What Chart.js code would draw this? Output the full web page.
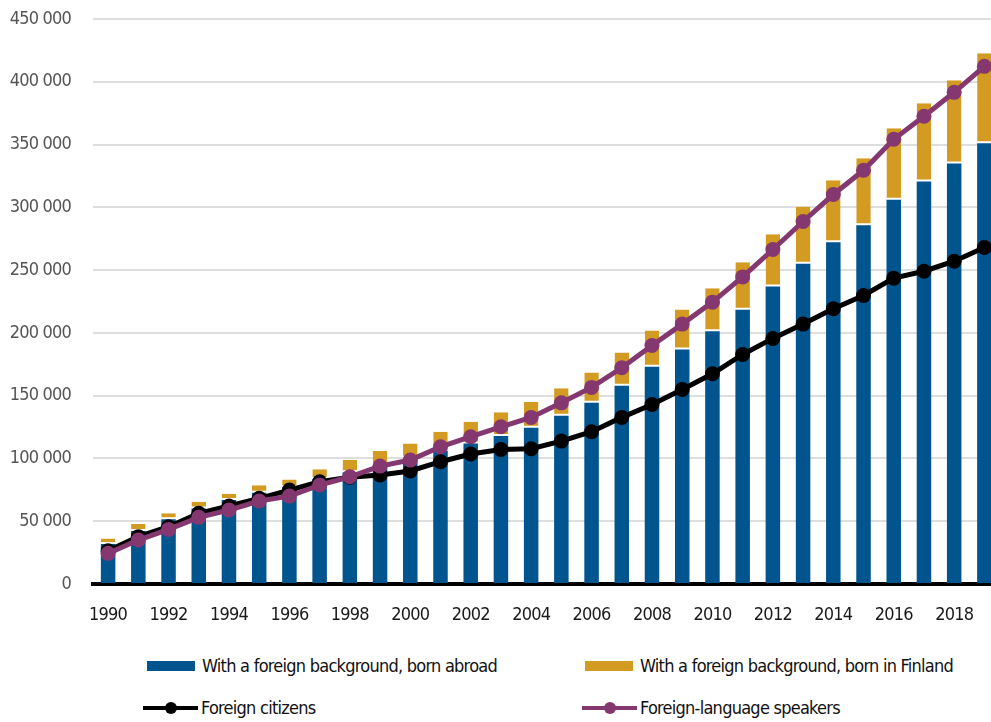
<!DOCTYPE html>
<html lang="en">

<head>
    <meta charset="UTF-8">
    <title>Foreign background population</title>
    <style>
        html, body { margin: 0; padding: 0; background: #fff; overflow: hidden; }
        body { width: 991px; height: 722px; position: relative; font-family: 'Liberation Sans Narrow', 'DejaVu Sans Condensed', sans-serif; }
        #wrap { position: absolute; left: 0; top: 0; width: 1007px; height: 640px; }
        .lg { position: absolute; display: flex; align-items: center; font-size: 18px; letter-spacing: -0.75px; color: #111; white-space: nowrap; }
        .box { width: 48px; height: 10px; margin-right: 7px; }
        .ln { position: relative; width: 55px; height: 4px; margin-right: 3px; }
        .ln i { position: absolute; left: 22px; top: -4px; width: 12px; height: 12px; border-radius: 50%; }
    </style>
</head>

<body>
    <div id="wrap"><canvas id="myChart"></canvas></div>
    <div id="legend"></div>
    <script src="https://cdn.jsdelivr.net/npm/chart.js"></script>

    <script>
        // data
        let v_years = [];
        for (let y = 1990; y <= 2019; y++) v_years.push(String(y));

        let v_bornAbroad = [31800, 42200, 51500, 60200, 66900, 72700, 77000, 83600, 89000, 95000,
            100500, 106100, 112000, 117800, 124400, 134000, 144300, 157900, 173000, 186800,
            201400, 218400, 237000, 255000, 272200, 285800, 306000, 320500, 335000, 351000];
        let v_bornFinland = [4500, 5600, 4800, 5300, 5000, 5900, 6300, 7700, 9700, 10900,
            11500, 15100, 17200, 18900, 20500, 22000, 24200, 26500, 28900, 31900,
            34200, 37900, 41600, 45400, 49400, 53300, 57000, 62400, 66200, 71700];
        let v_citizens = [26500, 37700, 45600, 56300, 62100, 68200, 74800, 81400, 85000, 86800,
            90000, 97400, 103500, 107200, 107700, 113800, 121300, 132700, 143000, 155000,
            167400, 182800, 195600, 207000, 219200, 229800, 243600, 249100, 257100, 268000];
        let v_speakers = [24400, 35000, 43500, 53100, 58900, 66100, 70000, 78800, 85400, 93900,
            98700, 109300, 117300, 125200, 132700, 144300, 156600, 172200, 190000, 207000,
            224500, 244600, 266400, 288700, 310200, 329500, 354200, 372500, 391600, 412300];

        let v_labels = ["With a foreign background, born abroad", "With a foreign background, born in Finland",
            "Foreign citizens", "Foreign-language speakers"];
        let v_colors = ["#00558f", "#d39b22", "#000000", "#85376f"];

        const FONT = "'Liberation Sans Narrow', 'DejaVu Sans Condensed', sans-serif";
        Chart.defaults.font.family = FONT;
        Chart.defaults.font.size = 18;

        // squeeze the tick text a little, the original uses a condensed face
        const narrowText = {
            id: "narrowText",
            beforeDraw: function (chart) { chart.ctx.letterSpacing = "-0.8px"; }
        };

        const ctx = document.getElementById("myChart");

        new Chart(ctx, {
            data: {
                labels: v_years,
                datasets: [
                    {
                        type: "line", label: v_labels[3], data: v_speakers, stack: "l", order: 0,
                        borderColor: v_colors[3], backgroundColor: v_colors[3], borderWidth: 5,
                        pointRadius: 7.5, pointBorderWidth: 0, pointBackgroundColor: v_colors[3]
                    },
                    {
                        type: "line", label: v_labels[2], data: v_citizens, stack: "c", order: 1,
                        borderColor: v_colors[2], backgroundColor: v_colors[2], borderWidth: 5,
                        pointRadius: 7.5, pointBorderWidth: 0, pointBackgroundColor: v_colors[2]
                    },
                    {
                        type: "bar", label: v_labels[0], data: v_bornAbroad, stack: "b", order: 2,
                        backgroundColor: v_colors[0], categoryPercentage: 1, barPercentage: 0.48
                    },
                    {
                        type: "bar", label: v_labels[1], data: v_bornFinland, stack: "b", order: 3,
                        backgroundColor: v_colors[1], borderColor: "#ffffff",
                        borderWidth: { top: 0, left: 0, right: 0, bottom: 2 }, borderSkipped: false,
                        categoryPercentage: 1, barPercentage: 0.48
                    }
                ]
            },
            options: {
                responsive: true,
                maintainAspectRatio: false,
                animation: false,
                layout: { padding: { top: 19, right: 0, left: 0, bottom: 0 } },
                plugins: { legend: { display: false }, tooltip: { enabled: false } },
                scales: {
                    x: {
                        stacked: true,
                        grid: { display: true, drawOnChartArea: false, drawTicks: true, tickLength: 21, color: "rgba(0,0,0,0)" },
                        border: { color: "#000", width: 4 },
                        ticks: {
                            autoSkip: false, maxRotation: 0, padding: 0, color: "#1a1a1a",
                            callback: function (v, i) { return i % 2 === 0 ? v_years[i] : ""; }
                        },
                        afterFit: function (s) { s.height = 56; }
                    },
                    y: {
                        stacked: true,
                        min: 0, max: 450000,
                        grid: { color: "#dedede", lineWidth: 2, drawTicks: true, tickLength: 22, tickColor: "rgba(0,0,0,0)" },
                        border: { display: false },
                        ticks: {
                            stepSize: 50000, padding: 0, color: "#555",
                            callback: function (v) { return String(v).replace(/\B(?=(\d{3})+(?!\d))/g, " "); }
                        },
                        afterFit: function (s) { s.width = 93; }
                    }
                }
            },
            plugins: [narrowText]
        });

        // legend laid out as a 2 x 2 grid like the original
        let v_leg = document.getElementById("legend");
        let v_pos = [[147, 661], [585, 661], [143, 699], [582, 699]];
        for (let i = 0; i < 4; i++) {
            let d = document.createElement("div");
            d.className = "lg";
            d.style.left = v_pos[i][0] + "px";
            let mark;
            if (i < 2) {
                mark = '<span class="box" style="background:' + v_colors[i] + '"></span>';
                d.style.top = (v_pos[i][1] - 6) + "px";
            } else {
                mark = '<span class="ln" style="background:' + v_colors[i] + '"><i style="background:' + v_colors[i] + '"></i></span>';
                d.style.top = (v_pos[i][1] - 2) + "px";
            }
            d.innerHTML = mark + "<span>" + v_labels[i] + "</span>";
            v_leg.appendChild(d);
        }
    </script>
</body>

</html>
